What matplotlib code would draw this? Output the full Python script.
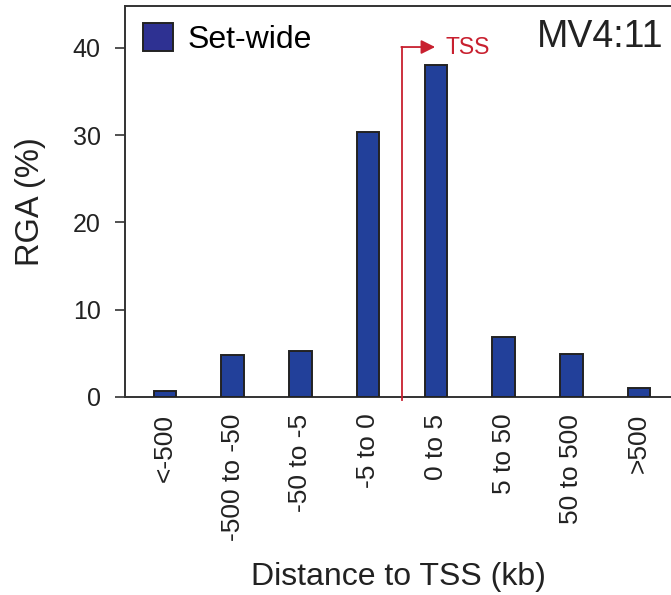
import matplotlib
matplotlib.use('Agg')
import matplotlib.pyplot as plt
from matplotlib.patches import Patch

plt.rcParams['font.family'] = ['Liberation Sans', 'DejaVu Sans']

# Data
categories = ['<-500', '-500 to -50', '-50 to -5', '-5 to 0', '0 to 5', '5 to 50', '50 to 500', '>500']
rga = [0.7, 4.8, 5.3, 30.4, 38.0, 6.9, 4.9, 1.0]
yticks = [0, 10, 20, 30, 40]

bar_color = '#22409a'
edge_color = '#222222'
tss_color = '#c8202f'

fig = plt.figure(figsize=(6.71, 5.95), dpi=100)
ax = fig.add_axes([0.1863, 0.3328, 1.0 - 0.1863, 0.9899 - 0.3328])

x = list(range(len(categories)))
ax.bar(x, rga, width=0.334, color=bar_color, edgecolor=edge_color, linewidth=1.4, zorder=3)

ax.set_xlim(-0.591, 7.474)
ax.set_ylim(0, 44.8)

ax.set_yticks(yticks)
ax.set_yticklabels([str(v) for v in yticks], fontsize=18, color='#222222')
ax.set_xticks(x)
ax.set_xticklabels(categories, rotation=90, fontsize=19, color='#222222', va='top')
ax.tick_params(axis='x', length=0, pad=12)
ax.tick_params(axis='y', length=7.5, width=1.2, color='#333333', pad=10)

for side in ['left', 'top', 'bottom']:
    ax.spines[side].set_linewidth(1.4)
    ax.spines[side].set_color('#333333')
ax.spines['right'].set_visible(False)

ax.set_ylabel('RGA (%)', fontsize=23.5, color='#222222', labelpad=19)
ax.set_xlabel('Distance to TSS (kb)', fontsize=23, color='#222222', labelpad=15)

# TSS marker
ax.plot([3.5, 3.5], [-0.4, 40.1], color=tss_color, linewidth=1.3, clip_on=False, zorder=4)
ax.annotate('', xy=(3.99, 40.1), xytext=(3.49, 40.1),
            arrowprops=dict(arrowstyle='-|>,head_length=0.6,head_width=0.3', color=tss_color,
                            lw=1.3, mutation_scale=14, shrinkA=0, shrinkB=0))
ax.text(4.15, 40.1, 'TSS', color=tss_color, fontsize=16.5, va='center', ha='left')

ax.text(7.36, 41.3, 'MV4:11', fontsize=27, color='#222222', va='center', ha='right')

handle = Patch(facecolor='#2e3192', edgecolor=edge_color, linewidth=1.4)
ax.legend([handle], ['Set-wide'], loc='upper left', bbox_to_anchor=(143 / 671, 1 - 23 / 595),
          bbox_transform=fig.transFigure, frameon=False, fontsize=23, borderpad=0,
          borderaxespad=0, handlelength=0.95, handleheight=0.95, handletextpad=0.45)

fig.savefig('out.png', dpi=100)
